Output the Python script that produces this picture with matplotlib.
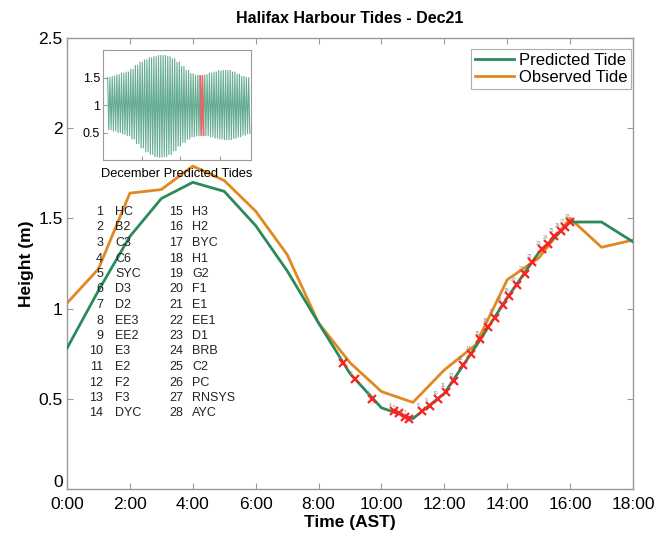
import numpy as np
import matplotlib
matplotlib.use("Agg")
import matplotlib.pyplot as plt
import matplotlib.transforms as mtransforms

plt.rcParams['font.family'] = ['Liberation Sans', 'DejaVu Sans']

# hourly tide heights for Dec 21 (m)
hours = list(range(0, 19))
predicted = [0.78, 1.10, 1.40, 1.61, 1.70, 1.65, 1.46, 1.21, 0.92, 0.64,
             0.45, 0.39, 0.53, 0.79, 1.06, 1.31, 1.48, 1.48, 1.37]
observed = [1.03, 1.22, 1.64, 1.66, 1.79, 1.71, 1.54, 1.30, 0.92, 0.70,
            0.54, 0.48, 0.66, 0.80, 1.16, 1.28, 1.50, 1.34, 1.38]

# station passage times (h) and heights on predicted curve
station_times = [8.79, 9.17, 9.71, 10.40, 10.55, 10.75, 10.88, 11.30, 11.55, 11.80,
                 12.05, 12.30, 12.60, 12.85, 13.15, 13.40, 13.60, 13.85, 14.05, 14.30,
                 14.55, 14.80, 15.10, 15.30, 15.50, 15.70, 15.85, 16.00]
station_heights = [0.70, 0.61, 0.50, 0.43, 0.42, 0.40, 0.39, 0.43, 0.46, 0.50,
                   0.54, 0.60, 0.69, 0.75, 0.83, 0.90, 0.95, 1.02, 1.07, 1.13,
                   1.19, 1.26, 1.33, 1.36, 1.40, 1.43, 1.45, 1.48]
station_names = ['HC', 'B2', 'C3', 'C6', 'SYC', 'D3', 'D2', 'EE3', 'EE2', 'E3',
                 'E2', 'F2', 'F3', 'DYC', 'H3', 'H2', 'BYC', 'H1', 'G2', 'F1',
                 'E1', 'EE1', 'D1', 'BRB', 'C2', 'PC', 'RNSYS', 'AYC']

# December daily high / low predicted tide (m)
dec_days = list(range(1, 32))
dec_high = [1.50, 1.52, 1.55, 1.58, 1.60, 1.65, 1.72, 1.78, 1.82, 1.86,
            1.88, 1.90, 1.90, 1.88, 1.84, 1.78, 1.70, 1.63, 1.57, 1.54,
            1.53, 1.55, 1.58, 1.60, 1.62, 1.63, 1.63, 1.60, 1.56, 1.52, 1.50]
dec_low = [0.55, 0.53, 0.50, 0.47, 0.44, 0.38, 0.30, 0.22, 0.15, 0.10,
           0.06, 0.05, 0.06, 0.10, 0.17, 0.25, 0.32, 0.38, 0.42, 0.44,
           0.45, 0.44, 0.42, 0.40, 0.38, 0.37, 0.37, 0.39, 0.42, 0.45, 0.48]

green = '#2b8a5c'
orange = '#e0891e'
spine_grey = '#9a9a9a'

W, H = 656, 539
fig = plt.figure(figsize=(W / 100, H / 100), dpi=100)
ax = fig.add_axes([67 / W, 1 - 489 / H, 566 / W, 451 / H])

ax.plot(hours, predicted, color=green, lw=2.0, label='Predicted Tide', zorder=3)
ax.plot(hours, observed, color=orange, lw=2.0, label='Observed Tide', zorder=2)
ax.plot(station_times, station_heights, linestyle='none', marker='x', color='#ff2020',
        ms=5.5, mew=1.6, zorder=4)
for i, (t, h) in enumerate(zip(station_times, station_heights)):
    ax.annotate(str(i + 1), (t, h), xytext=(-4, 3), textcoords='offset points',
                fontsize=3.5, color='#888888', zorder=5)

ax.set_xlim(0, 18)
ax.set_ylim(0, 2.5)
ax.set_xticks(range(0, 19, 2))
ax.set_xticklabels(['%d:00' % h for h in range(0, 19, 2)])
ax.set_yticks([0, 0.5, 1, 1.5, 2, 2.5])
ax.set_yticklabels(['0', '0.5', '1', '1.5', '2', '2.5'])
ax.tick_params(direction='in', top=True, right=True, length=4, width=0.8,
               color=spine_grey, labelsize=12.5)
ax.tick_params(axis='x', pad=6)
ax.tick_params(axis='y', pad=3)
# lift the "0" label a little, as in the original
lbl0 = ax.get_yticklabels()[0]
lbl0.set_transform(lbl0.get_transform() +
                   mtransforms.ScaledTranslation(0, 8 / 100, fig.dpi_scale_trans))
for s in ax.spines.values():
    s.set_color(spine_grey)
    s.set_linewidth(1.0)
ax.set_title('Halifax Harbour Tides - Dec21', fontsize=11.5, fontweight='bold', pad=11)
ax.set_xlabel('Time (AST)', fontsize=12.5, fontweight='bold', labelpad=2)
ax.set_ylabel('Height (m)', fontsize=12.5, fontweight='bold', labelpad=3)

leg = ax.legend(loc='upper right', bbox_to_anchor=(1.0, 0.98), fontsize=12,
                fancybox=False, handlelength=2.3, handletextpad=0.3, borderpad=0.25,
                labelspacing=0.1, borderaxespad=0.1)
leg.get_frame().set_edgecolor(spine_grey)
leg.get_frame().set_linewidth(0.8)

# station key
for i, name in enumerate(station_names):
    col, row = divmod(i, 14)
    y = 1 - (212 + row * 15.5) / H
    xn = (103 if col == 0 else 183) / W
    xs = (115 if col == 0 else 192) / W
    fig.text(xn, y, str(i + 1), ha='right', va='center', fontsize=9, color='#222222')
    fig.text(xs, y, name, ha='left', va='center', fontsize=9, color='#222222')

# inset with December predicted tides
ins = fig.add_axes([103 / W, 1 - 160 / H, 148 / W, 110 / H])
d = np.array(dec_days, dtype=float)
t = np.column_stack([d, d + 0.25, d + 0.5, d + 0.75]).ravel()
hv = np.column_stack([dec_high, dec_low, dec_high, dec_low]).ravel()
ins.plot(t, hv, color='#55a386', lw=0.8, alpha=0.9)
sel = (t >= 21) & (t < 22)
ins.plot(t[sel], hv[sel], color='#e06a6a', lw=1.2)
ins.set_xlim(0, 32)
ins.set_ylim(0, 2)
ins.set_xticks([8.4, 16.7, 25.2])
ins.set_xticklabels([])
ins.set_yticks([0.5, 1, 1.5])
ins.set_yticklabels(['0.5', '1', '1.5'])
ins.tick_params(direction='in', labelsize=9, length=3, color=spine_grey, pad=2)
for s in ins.spines.values():
    s.set_color(spine_grey)
    s.set_linewidth(0.8)
ins.set_xlabel('December Predicted Tides', fontsize=9.3, labelpad=4)

fig.savefig('out.png', dpi=100)
